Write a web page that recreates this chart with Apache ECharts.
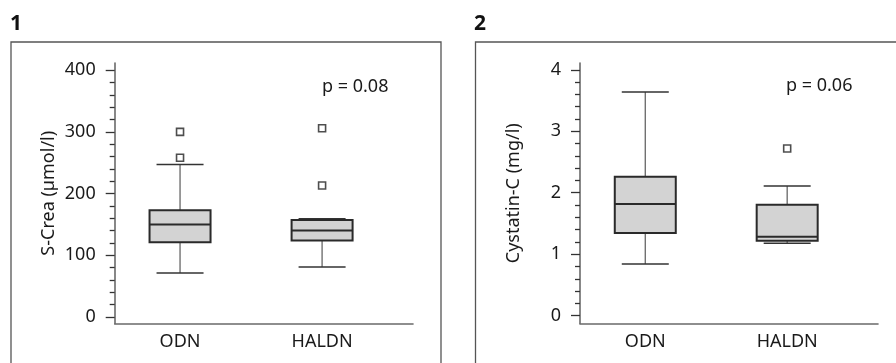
<!DOCTYPE html>
<html><head><meta charset="utf-8">
<script src="https://cdn.jsdelivr.net/npm/echarts@6/dist/echarts.min.js"></script>
<style>html,body{margin:0;padding:0;background:#fff}#c{width:896px;height:363px}</style>
</head><body><div id="c"></div>
<script>
// ---- data ----
const categories = ['ODN', 'HALDN'];
const categoryPos = [1, 2];
// box statistics: [lower whisker, Q1, median, Q3, upper whisker]
const creaStats = [[71, 121, 150, 173, 247], [81, 124, 140, 157, 159]];
const creaOutliers = [[1, 258], [1, 300], [2, 213], [2, 306]];
const cysStats = [[0.84, 1.345, 1.815, 2.26, 3.64], [1.18, 1.22, 1.285, 1.805, 2.11]];
const cysOutliers = [[2, 2.72]];
const creaTicks = [0, 100, 200, 300, 400];
const cysTicks = [0, 1, 2, 3, 4];
const creaTitle = 'S-Crea (µmol/l)';
const cysTitle = 'Cystatin-C (mg/l)';
const creaP = 'p = 0.08';
const cysP = 'p = 0.06';
const panelLabels = ['1', '2'];

// ---- helpers ----
const FONT = '"Noto Sans", sans-serif';
const TXT = '#1a1a1a';
function minorOf(ticks) {
  const out = [];
  for (let i = 0; i < ticks.length - 1; i++) {
    const step = (ticks[i + 1] - ticks[i]) / 5;
    for (let k = 1; k < 5; k++) out.push(+(ticks[i] + k * step).toFixed(6));
  }
  return out;
}
function renderBox(params, api) {
  const x = api.value(0);
  const lo = api.coord([x, api.value(1)]);
  const q1 = api.coord([x, api.value(2)]);
  const md = api.coord([x, api.value(3)]);
  const q3 = api.coord([x, api.value(4)]);
  const hi = api.coord([x, api.value(5)]);
  const cx = lo[0], bw = 61, cw = 47;
  const wStyle = { stroke: '#666', lineWidth: 1.3 };
  const cStyle = { stroke: '#333', lineWidth: 1.5 };
  return {
    type: 'group', children: [
      { type: 'line', shape: { x1: cx, y1: hi[1], x2: cx, y2: q3[1] }, style: wStyle },
      { type: 'line', shape: { x1: cx, y1: q1[1], x2: cx, y2: lo[1] }, style: wStyle },
      { type: 'line', shape: { x1: cx - cw / 2, y1: hi[1], x2: cx + cw / 2, y2: hi[1] }, style: cStyle },
      { type: 'line', shape: { x1: cx - cw / 2, y1: lo[1], x2: cx + cw / 2, y2: lo[1] }, style: cStyle },
      { type: 'rect', shape: { x: cx - bw / 2, y: q3[1], width: bw, height: q1[1] - q3[1] },
        style: { fill: '#d3d3d3', stroke: '#2a2a2a', lineWidth: 2 } },
      { type: 'line', shape: { x1: cx - bw / 2, y1: md[1], x2: cx + bw / 2, y2: md[1] },
        style: { stroke: '#2a2a2a', lineWidth: 2 } }
    ]
  };
}
function xAxisFor(gi) {
  return {
    gridIndex: gi, type: 'value', min: 0.54, max: 2.64,
    axisLine: { show: true, onZero: false, lineStyle: { color: '#6a6a6a', width: 1.6 } },
    axisTick: { show: false }, splitLine: { show: false },
    axisLabel: {
      customValues: categoryPos,
      formatter: v => categories[categoryPos.indexOf(v)] || '',
      fontSize: 18, fontFamily: FONT, color: TXT, margin: 9
    }
  };
}
function yAxesFor(gi, min, max, ticks, title) {
  return [{
    gridIndex: gi, type: 'value', position: 'left', min: min, max: max,
    axisLine: { show: true, onZero: false, lineStyle: { color: '#6a6a6a', width: 1.6 } },
    axisTick: { show: true, length: 9, customValues: ticks, lineStyle: { color: '#333', width: 1.3 } },
    axisLabel: { customValues: ticks, fontSize: 18, fontFamily: FONT, color: TXT, margin: 19 },
    splitLine: { show: false },
    name: title, nameLocation: 'middle', nameRotate: 90, nameGap: 57,
    nameTextStyle: { fontSize: 18, fontFamily: FONT, color: TXT }
  }, {
    gridIndex: gi, type: 'value', position: 'left', offset: 0, min: min, max: max,
    axisLine: { show: false, onZero: false },
    axisTick: { show: true, length: 5, customValues: minorOf(ticks), lineStyle: { color: '#333', width: 1.3 } },
    axisLabel: { show: false }, splitLine: { show: false }
  }];
}

const chart = echarts.init(document.getElementById('c'), null, { renderer: 'canvas' });
chart.setOption({
  animation: false,
  backgroundColor: '#fff',
  grid: [
    { left: 114.7, right: 483, top: 63, bottom: 39.5, outerBoundsMode: 'none' },
    { left: 580, right: 18, top: 63, bottom: 39.5, outerBoundsMode: 'none' }
  ],
  xAxis: [xAxisFor(0), xAxisFor(1)],
  yAxis: [].concat(
    yAxesFor(0, -10.8, 411.8, creaTicks, creaTitle),
    yAxesFor(1, -0.127, 4.11, cysTicks, cysTitle)
  ),
  graphic: [
    { type: 'rect', shape: { x: 11, y: 42, width: 430, height: 400 }, silent: true,
      style: { fill: 'none', stroke: '#555', lineWidth: 1.3 } },
    { type: 'rect', shape: { x: 475.5, y: 42, width: 440, height: 400 }, silent: true,
      style: { fill: 'none', stroke: '#555', lineWidth: 1.3 } },
    { type: 'text', x: 10, y: 24, style: { text: panelLabels[0], font: 'bold 21px "Noto Sans", sans-serif', fill: '#111', verticalAlign: 'middle' } },
    { type: 'text', x: 474, y: 24, style: { text: panelLabels[1], font: 'bold 21px "Noto Sans", sans-serif', fill: '#111', verticalAlign: 'middle' } },
    { type: 'text', x: 322, y: 87, style: { text: creaP, font: '18px "Noto Sans", sans-serif', fill: TXT, verticalAlign: 'middle' } },
    { type: 'text', x: 786, y: 86, style: { text: cysP, font: '18px "Noto Sans", sans-serif', fill: TXT, verticalAlign: 'middle' } }
  ],
  series: [
    { type: 'custom', xAxisIndex: 0, yAxisIndex: 0, renderItem: renderBox,
      encode: { x: 0, y: [1, 2, 3, 4, 5] },
      data: categoryPos.map((p, i) => [p].concat(creaStats[i])) },
    { type: 'scatter', xAxisIndex: 0, yAxisIndex: 0, data: creaOutliers, symbol: 'rect', symbolSize: 7,
      itemStyle: { color: '#fff', borderColor: '#222', borderWidth: 1.6 } },
    { type: 'custom', xAxisIndex: 1, yAxisIndex: 2, renderItem: renderBox,
      encode: { x: 0, y: [1, 2, 3, 4, 5] },
      data: categoryPos.map((p, i) => [p].concat(cysStats[i])) },
    { type: 'scatter', xAxisIndex: 1, yAxisIndex: 2, data: cysOutliers, symbol: 'rect', symbolSize: 7,
      itemStyle: { color: '#fff', borderColor: '#222', borderWidth: 1.6 } }
  ]
});
</script></body></html>
